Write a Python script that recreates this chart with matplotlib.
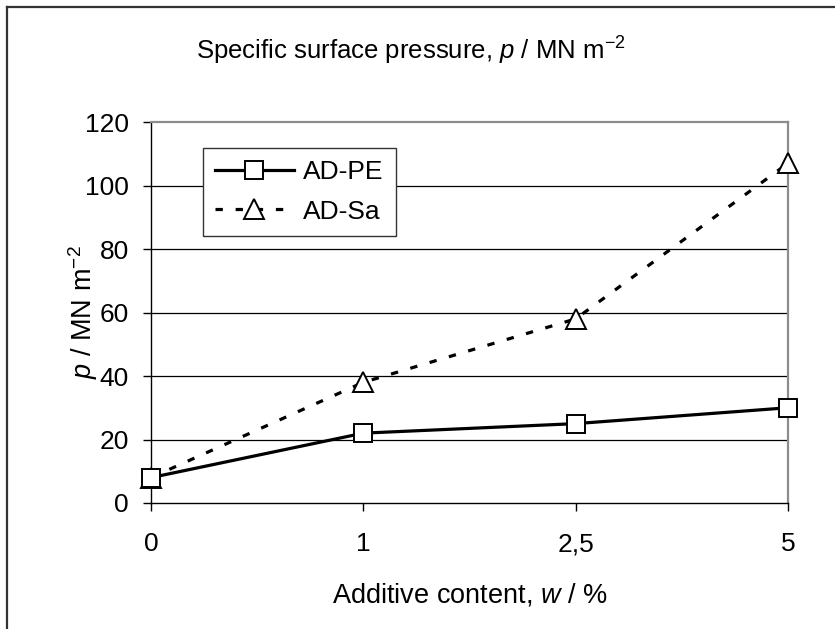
import matplotlib.pyplot as plt
from matplotlib.lines import Line2D

##-------------data--------------------------------------------
categories = ["0", "1", "2,5", "5"]
ad_pe = [8, 22, 25, 30]
ad_sa = [8, 38, 58, 107]
y_ticks = [0, 20, 40, 60, 80, 100, 120]
##-------------------------------------------------------------

plt.rcParams['font.family'] = ['Liberation Sans', 'DejaVu Sans']
plt.rcParams['mathtext.fontset'] = 'custom'
plt.rcParams['mathtext.it'] = 'Liberation Sans:italic'
plt.rcParams['mathtext.rm'] = 'Liberation Sans'

W, H = 835, 629
fig = plt.figure(figsize=(W / 100, H / 100), dpi=100)

# plot area in pixels: left 151, right 788, top 122, bottom 503
ax = fig.add_axes([151 / W, 1 - 503 / H, (788 - 151) / W, (503 - 122) / H])

x = list(range(len(categories)))
ax.plot(x, ad_pe, color='black', lw=2.3, marker='s', ms=13,
        mfc='white', mec='black', mew=1.4, label='AD-PE', zorder=4, clip_on=False)
ax.plot(x, ad_sa, color='black', lw=2.3, ls=(0, (2.3, 4)), marker='^', ms=15,
        mfc='white', mec='black', mew=1.4, label='AD-Sa', zorder=3, clip_on=False)

ax.set_xlim(0, len(categories) - 1)
ax.set_ylim(0, 120)
ax.set_xticks(x)
ax.set_xticklabels(categories)
ax.set_yticks(y_ticks)

for v in y_ticks[1:-1]:
    ax.axhline(v, color='black', lw=0.9, zorder=1)

for s in ['top', 'right']:
    ax.spines[s].set_color('#8c8c8c')
    ax.spines[s].set_linewidth(1.6)
for s in ['left', 'bottom']:
    ax.spines[s].set_color('black')
    ax.spines[s].set_linewidth(1.0)

ax.tick_params(axis='y', direction='out', length=6, width=1, labelsize=19, pad=10)
ax.tick_params(axis='x', direction='out', length=6, width=1, labelsize=19, pad=15)

ax.set_xlabel('Additive content, $\\mathit{w}$ / %', fontsize=19.5, labelpad=18)
ax.set_ylabel('$\\mathit{p}$ / MN m$^{-2}$', fontsize=19.5)
ax.yaxis.set_label_coords((100 - 151) / (788 - 151), 0.5)
fig.text(411 / W, 1 - 51 / H, 'Specific surface pressure, $\\mathit{p}$ / MN m$^{-2}$',
         ha='center', va='center', fontsize=18.5)

leg = ax.legend(loc='upper left', bbox_to_anchor=(203 / W, 1 - 148 / H),
                bbox_transform=fig.transFigure, borderaxespad=0, fontsize=19,
                fancybox=False, framealpha=1, edgecolor='#333333',
                handlelength=3.0, handletextpad=0.35, borderpad=0.45, labelspacing=0.6)
leg.get_frame().set_linewidth(1.0)

# outer chart border (top and left visible, runs off the image)
fig.add_artist(Line2D([7 / W, 1], [1 - 7 / H, 1 - 7 / H], transform=fig.transFigure,
                      color='#333333', lw=1.6))
fig.add_artist(Line2D([7 / W, 7 / W], [0, 1 - 7 / H], transform=fig.transFigure,
                      color='#333333', lw=1.6))

fig.savefig('out.png', dpi=100)
